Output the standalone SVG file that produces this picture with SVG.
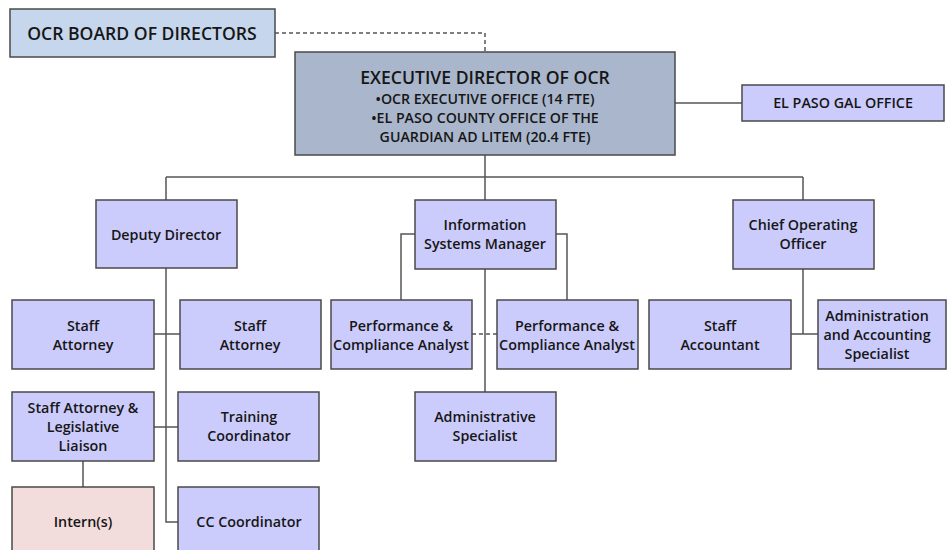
<svg xmlns="http://www.w3.org/2000/svg" width="948" height="550" viewBox="0 0 948 550">
  <style>
    .box { fill: #ccccfc; stroke: #4a4a4a; stroke-width: 1.5; }
    .board { fill: #c6d6ec; stroke: #4a4a4a; stroke-width: 1.5; }
    .exec { fill: #a9b6cc; stroke: #4a4a4a; stroke-width: 1.5; }
    .intern { fill: #f3dcdc; stroke: #4a4a4a; stroke-width: 1.5; }
    .ln { fill: none; stroke: #555; stroke-width: 1.5; }
    .dash { fill: none; stroke: #555; stroke-width: 1.5; stroke-dasharray: 4 3; }
    text { font-family: "Open Sans", "Liberation Sans", sans-serif; font-weight: 600; fill: #161616; text-anchor: middle; }
    .t { font-size: 14.3px; }
    .big { font-size: 17.6px; }
    .mid { font-size: 14.2px; }
  </style>

  <g id="connectors">
    <path class="dash" d="M275 33 H485 V52"/>
    <path class="ln" d="M675 103 H742"/>
    <path class="ln" d="M485 155 V177 M166 177 H803 M166 177 V200 M485 177 V200 M803 177 V200"/>
    <!-- Deputy Director branch -->
    <path class="ln" d="M166 268 V522 H178 M154 334 H180 M154 427 H178 M83 461 V487"/>
    <!-- Information Systems Manager branch -->
    <path class="ln" d="M415 234 H401 V300 M556 234 H567 V300 M485 269 V392"/>
    <path class="dash" d="M472 334 H497"/>
    <!-- Chief Operating Officer branch -->
    <path class="ln" d="M803 269 V334 M791 334 H818"/>
  </g>

  <g id="board">
    <rect class="board" x="10" y="9" width="265" height="48"/>
    <text class="big" x="142" y="40">OCR BOARD OF DIRECTORS</text>
  </g>

  <g id="executive">
    <rect class="exec" x="295" y="52" width="380" height="103"/>
    <text class="big" x="485" y="84">EXECUTIVE DIRECTOR OF OCR</text>
    <text class="mid" x="485" y="104">•OCR EXECUTIVE OFFICE (14 FTE)</text>
    <text class="mid" x="485" y="123">•EL PASO COUNTY OFFICE OF THE</text>
    <text class="mid" x="485" y="142">GUARDIAN AD LITEM (20.4 FTE)</text>
  </g>

  <g id="gal-office">
    <rect class="box" x="742" y="85" width="202" height="36"/>
    <text class="t" x="843" y="108">EL PASO GAL OFFICE</text>
  </g>

  <g id="deputy">
    <rect class="box" x="96" y="200" width="141" height="68"/>
    <text class="t" x="166" y="240">Deputy Director</text>
  </g>

  <g id="ism">
    <rect class="box" x="415" y="200" width="141" height="69"/>
    <text class="t" x="485" y="230">Information</text>
    <text class="t" x="485" y="249">Systems Manager</text>
  </g>

  <g id="coo">
    <rect class="box" x="733" y="200" width="141" height="69"/>
    <text class="t" x="803" y="230">Chief Operating</text>
    <text class="t" x="803" y="249">Officer</text>
  </g>

  <g id="staff-attorney-1">
    <rect class="box" x="12" y="300" width="142" height="69"/>
    <text class="t" x="83" y="331">Staff</text>
    <text class="t" x="83" y="350">Attorney</text>
  </g>

  <g id="staff-attorney-2">
    <rect class="box" x="180" y="300" width="141" height="69"/>
    <text class="t" x="250" y="331">Staff</text>
    <text class="t" x="250" y="350">Attorney</text>
  </g>

  <g id="pca-1">
    <rect class="box" x="331" y="300" width="141" height="69"/>
    <text class="t" x="401" y="331">Performance &amp;</text>
    <text class="t" x="401" y="350">Compliance Analyst</text>
  </g>

  <g id="pca-2">
    <rect class="box" x="497" y="300" width="141" height="69"/>
    <text class="t" x="567" y="331">Performance &amp;</text>
    <text class="t" x="567" y="350">Compliance Analyst</text>
  </g>

  <g id="staff-accountant">
    <rect class="box" x="649" y="300" width="142" height="69"/>
    <text class="t" x="720" y="331">Staff</text>
    <text class="t" x="720" y="350">Accountant</text>
  </g>

  <g id="admin-accounting">
    <rect class="box" x="818" y="300" width="128" height="69"/>
    <text class="t" x="877" y="321">Administration</text>
    <text class="t" x="877" y="340">and Accounting</text>
    <text class="t" x="877" y="359">Specialist</text>
  </g>

  <g id="legislative-liaison">
    <rect class="box" x="12" y="392" width="142" height="69"/>
    <text class="t" x="83" y="413">Staff Attorney &amp;</text>
    <text class="t" x="83" y="432">Legislative</text>
    <text class="t" x="83" y="451">Liaison</text>
  </g>

  <g id="training">
    <rect class="box" x="178" y="392" width="141" height="69"/>
    <text class="t" x="249" y="422">Training</text>
    <text class="t" x="249" y="441">Coordinator</text>
  </g>

  <g id="admin-specialist">
    <rect class="box" x="415" y="392" width="141" height="69"/>
    <text class="t" x="485" y="422">Administrative</text>
    <text class="t" x="485" y="441">Specialist</text>
  </g>

  <g id="interns">
    <rect class="intern" x="12" y="487" width="142" height="80"/>
    <text class="t" x="83" y="527">Intern(s)</text>
  </g>

  <g id="cc-coordinator">
    <rect class="box" x="178" y="487" width="141" height="80"/>
    <text class="t" x="249" y="527">CC Coordinator</text>
  </g>
</svg>
